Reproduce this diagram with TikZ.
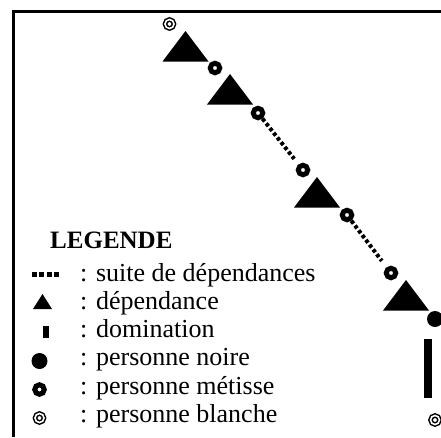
\documentclass[tikz,border=0pt]{standalone}
\usepackage{fontspec}
\setmainfont{Liberation Serif}
\tikzset{
  metisse/.style={circle, draw, line width=5pt, minimum size=9.5pt, inner sep=0pt},
  noire/.style={circle, fill, minimum size=16pt, inner sep=0pt},
  blanche/.style={circle, draw, double, double distance=1.6pt, line width=1.5pt, minimum size=9pt, inner sep=0pt},
  suite/.style={line width=4pt, dash pattern=on 3.5pt off 2.5pt},
  legende/.style={anchor=base west, inner sep=0pt, font=\fontsize{26}{28}\selectfont}
}
\begin{document}
\begin{tikzpicture}[x=1pt, y=-1pt]
  \useasboundingbox (0,0) rectangle (441,437);
  \draw[line width=3pt] (13.5,437) -- (13.5,11.5) -- (441,11.5);
  \foreach \x/\y in {185.5/31, 230/74, 317/177, 406/280}
    \fill (\x,\y) -- ++(-23,30.5) -- ++(46,0) -- cycle;
  \node[blanche] (b1) at (169.5,24) {};
  \foreach \n/\x/\y in {1/215/68, 2/258/113, 3/303/170, 4/347/215, 5/391/273}
    \node[metisse] (m\n) at (\x,\y) {};
  \node[noire] (n1) at (435,319) {};
  \node[blanche] (b2) at (435,420) {};
  \draw[suite, shorten >=7pt] (m2) -- (m3);
  \draw[suite, shorten >=8pt] (m4) -- (m5);
  \draw[line width=8pt] ([xshift=-7pt, yshift=-12pt]n1.south) -- ([xshift=-7pt, yshift=17pt]b2.north);

  \node[legende, font=\bfseries\fontsize{25}{28}\selectfont] (titre) at (50,248) {LEGENDE};
  \foreach \i/\t in {1/suite de dépendances, 2/dépendance, 3/domination,
    4/personne noire, 5/personne métisse, 6/personne blanche}
    \node[legende] (l\i) at (80,252.7+28.3*\i) {: \t};
  \draw[suite, line width=5pt, dash pattern=on 5pt off 2.3pt] (32,274) -- (59,274);
  \fill (42.5,294) -- ++(-9.5,15) -- ++(19,0) -- cycle;
  \fill (43,326) rectangle (49,338);
  \node[noire] (s4) at (39.5,361) {};
  \node[metisse] (s5) at (39.5,389.5) {};
  \node[blanche] (s6) at (39.5,418) {};
\end{tikzpicture}
\end{document}
